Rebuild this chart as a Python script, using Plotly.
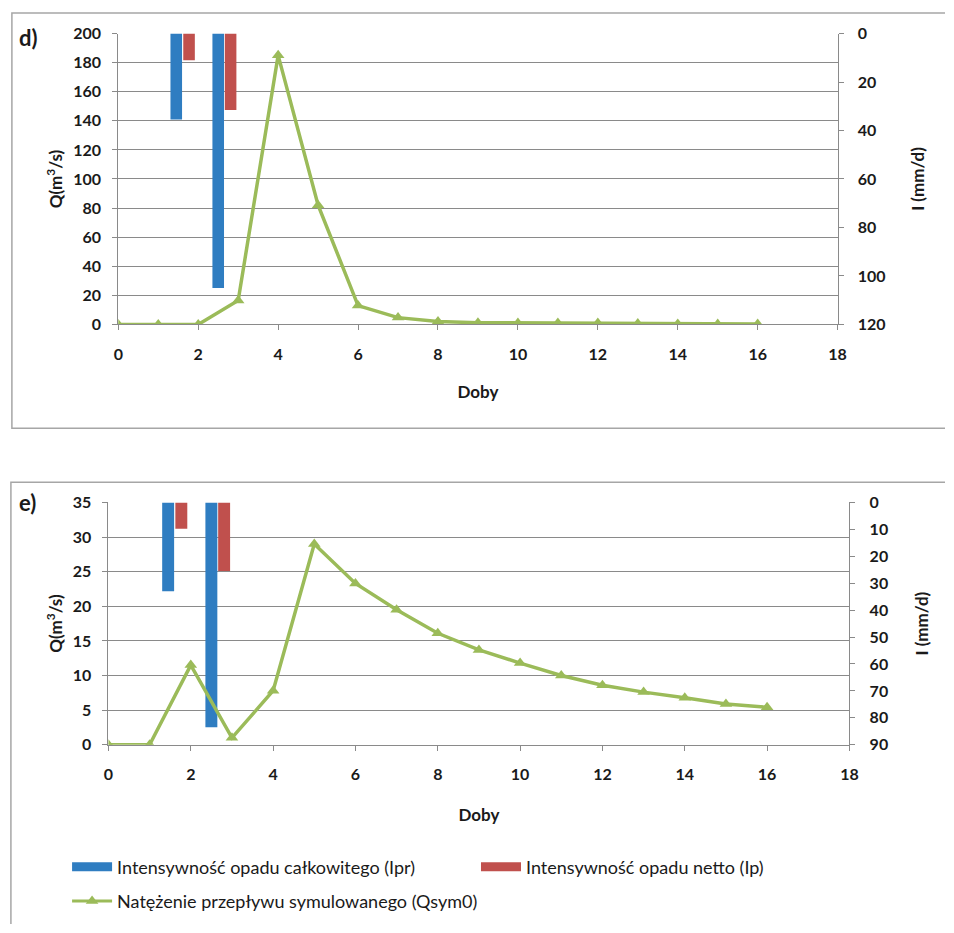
import plotly.graph_objects as go

W, H = 954, 933

# ---- data ----
days = list(range(0, 17))
# panel d)
q_d = [0, 0, 0, 16.5, 185, 82, 13, 4.7, 2, 1.2, 1, 1, 1, 0.6, 0.4, 0.3, 0.3]
ipr_x = [1.45, 2.5]
ip_x = [1.77, 2.81]
ipr_d = [35.5, 105]
ip_d = [11, 31.5]
# panel e)
q_e = [0, 0, 11.5, 1, 7.8, 29, 23.3, 19.5, 16.1, 13.7, 11.8, 10, 8.6, 7.6, 6.8, 5.9, 5.4]
ipr_e = [33, 83.5]
ip_e = [9.8, 25.5]

x_ticks = list(range(0, 19, 2))
q_ticks_d = list(range(0, 201, 20))
i_ticks_d = list(range(0, 121, 20))
q_ticks_e = list(range(0, 36, 5))
i_ticks_e = list(range(0, 91, 10))

names = ["Intensywność opadu całkowitego (Ipr)",
         "Intensywność opadu netto (Ip)",
         "Natężenie przepływu symulowanego (Qsym0)"]

BLUE = "#2f7dc1"
RED = "#c0504d"
GREEN = "#9bbb59"
GRID = "#8a8a8a"
FONT = "Lato"
TXT = "#1a1a1a"


def px_x(v):
    return v / W


def px_y(v):
    return 1 - v / H


fig = go.Figure()

BW = 0.29
# panel d bars (right axis, reversed) and line (left axis, overlay)
fig.add_trace(go.Bar(x=ipr_x, y=ipr_d, width=BW, marker_color=BLUE, marker_line_width=0,
                     xaxis="x", yaxis="y", name=names[0], showlegend=False))
fig.add_trace(go.Bar(x=ip_x, y=ip_d, width=BW, marker_color=RED, marker_line_width=0,
                     xaxis="x", yaxis="y", name=names[1], showlegend=False))
fig.add_trace(go.Scatter(x=days, y=q_d, mode="lines+markers", xaxis="x", yaxis="y2",
                         line=dict(color=GREEN, width=3.5),
                         marker=dict(symbol="triangle-up", size=11, color=GREEN),
                         name=names[2], showlegend=False))

# panel e
fig.add_trace(go.Bar(x=ipr_x, y=ipr_e, width=BW, marker_color=BLUE, marker_line_width=0,
                     xaxis="x2", yaxis="y3", name=names[0], showlegend=False))
fig.add_trace(go.Bar(x=ip_x, y=ip_e, width=BW, marker_color=RED, marker_line_width=0,
                     xaxis="x2", yaxis="y3", name=names[1], showlegend=False))
fig.add_trace(go.Scatter(x=days, y=q_e, mode="lines+markers", xaxis="x2", yaxis="y4",
                         line=dict(color=GREEN, width=3.5),
                         marker=dict(symbol="triangle-up", size=11, color=GREEN),
                         name=names[2], showlegend=False))

# legend entries (Excel-style wide swatches)
fig.add_trace(go.Scatter(x=[None], y=[None], mode="lines", xaxis="x2", yaxis="y3",
                         line=dict(color=BLUE, width=9), name=names[0],
                         legend="legend", showlegend=True))
fig.add_trace(go.Scatter(x=[None], y=[None], mode="lines", xaxis="x2", yaxis="y3",
                         line=dict(color=RED, width=9), name=names[1],
                         legend="legend2", showlegend=True))
fig.add_trace(go.Scatter(x=[None], y=[None], mode="lines+markers", xaxis="x2", yaxis="y4",
                         line=dict(color=GREEN, width=3),
                         marker=dict(symbol="triangle-up", size=11, color=GREEN),
                         name=names[2], legend="legend3", showlegend=True))

tickfont = dict(family=FONT, size=16, color=TXT, weight="bold")
titlefont = dict(family=FONT, size=17, color=TXT, weight="bold")

xbase = dict(range=[0, 18], tickvals=x_ticks, showgrid=False, zeroline=False,
             showline=True, linecolor=GRID, linewidth=1, ticks="outside", ticklen=5,
             tickcolor=GRID, tickfont=tickfont, ticklabelstandoff=10)

legfont = dict(family=FONT, size=18, color=TXT)
legcommon = dict(orientation="h", xanchor="left", yanchor="top", itemwidth=40,
                 font=legfont, bgcolor="rgba(0,0,0,0)")

# open frames (right / bottom edges lie outside the picture)
frame_d = "M 954,3 L 7,3 L 7,427 L 954,427"
frame_e = "M 954,482 L 6,482 L 6,933"


def frame_path(frame):
    out = []
    for tok in frame.split():
        if tok in ("M", "L"):
            out.append(tok)
        else:
            a, b = tok.split(",")
            out.append("%s,%s" % (px_x(float(a)), px_y(float(b))))
    return " ".join(out)


fig.update_layout(
    width=W, height=H,
    margin=dict(l=0, r=0, t=0, b=0),
    paper_bgcolor="white", plot_bgcolor="white",
    barmode="overlay",
    xaxis=dict(domain=[px_x(115), px_x(845)], anchor="y",
               title=dict(text="Doby", font=titlefont, standoff=24), **xbase),
    yaxis=dict(domain=[px_y(321), px_y(24)], anchor="x", side="right",
               range=[120, 0], tickvals=i_ticks_d, showgrid=False, zeroline=False,
               showline=True, linecolor=GRID, ticks="outside", ticklen=5, tickcolor=GRID,
               tickfont=tickfont, ticklabelstandoff=11,
               title=dict(text="I (mm/d)", font=titlefont, standoff=27)),
    yaxis2=dict(overlaying="y", anchor="x", side="left", range=[0, 200],
                tickvals=q_ticks_d, showgrid=True, gridcolor=GRID, gridwidth=1,
                zeroline=False, showline=True, linecolor=GRID, ticks="outside",
                ticklen=5, tickcolor=GRID, tickfont=tickfont, ticklabelstandoff=8,
                title=dict(text="Q(m<sup>3</sup>/s)", font=titlefont, standoff=6)),
    xaxis2=dict(domain=[px_x(105), px_x(857)], anchor="y3",
                title=dict(text="Doby", font=titlefont, standoff=27), **xbase),
    yaxis3=dict(domain=[px_y(750), px_y(502.7)], anchor="x2", side="right",
                range=[90, 0], tickvals=i_ticks_e, showgrid=False, zeroline=False,
                showline=True, linecolor=GRID, ticks="outside", ticklen=5, tickcolor=GRID,
                tickfont=tickfont, ticklabelstandoff=11,
                title=dict(text="I (mm/d)", font=titlefont, standoff=28)),
    yaxis4=dict(overlaying="y3", anchor="x2", side="left", range=[0, 35],
                tickvals=q_ticks_e, showgrid=True, gridcolor=GRID, gridwidth=1,
                zeroline=False, showline=True, linecolor=GRID, ticks="outside",
                ticklen=5, tickcolor=GRID, tickfont=tickfont, ticklabelstandoff=8,
                title=dict(text="Q(m<sup>3</sup>/s)", font=titlefont, standoff=5)),
    legend=dict(x=px_x(63), y=px_y(856), **legcommon),
    legend2=dict(x=px_x(478), y=px_y(856), **legcommon),
    legend3=dict(x=px_x(63), y=px_y(891), **legcommon),
    shapes=[
        dict(type="path", xref="paper", yref="paper", path=frame_path(frame),
             line=dict(color="#a6a6a6", width=1.5), layer="below")
        for frame in (frame_d, frame_e)
    ],
    annotations=[
        dict(text="d)", xref="paper", yref="paper", x=px_x(12), y=px_y(28),
             xanchor="left", yanchor="middle", showarrow=False,
             font=dict(family=FONT, size=22, color=TXT, weight="bold")),
        dict(text="e)", xref="paper", yref="paper", x=px_x(12), y=px_y(503),
             xanchor="left", yanchor="middle", showarrow=False,
             font=dict(family=FONT, size=22, color=TXT, weight="bold")),
    ],
)

fig.write_html("out.html")
